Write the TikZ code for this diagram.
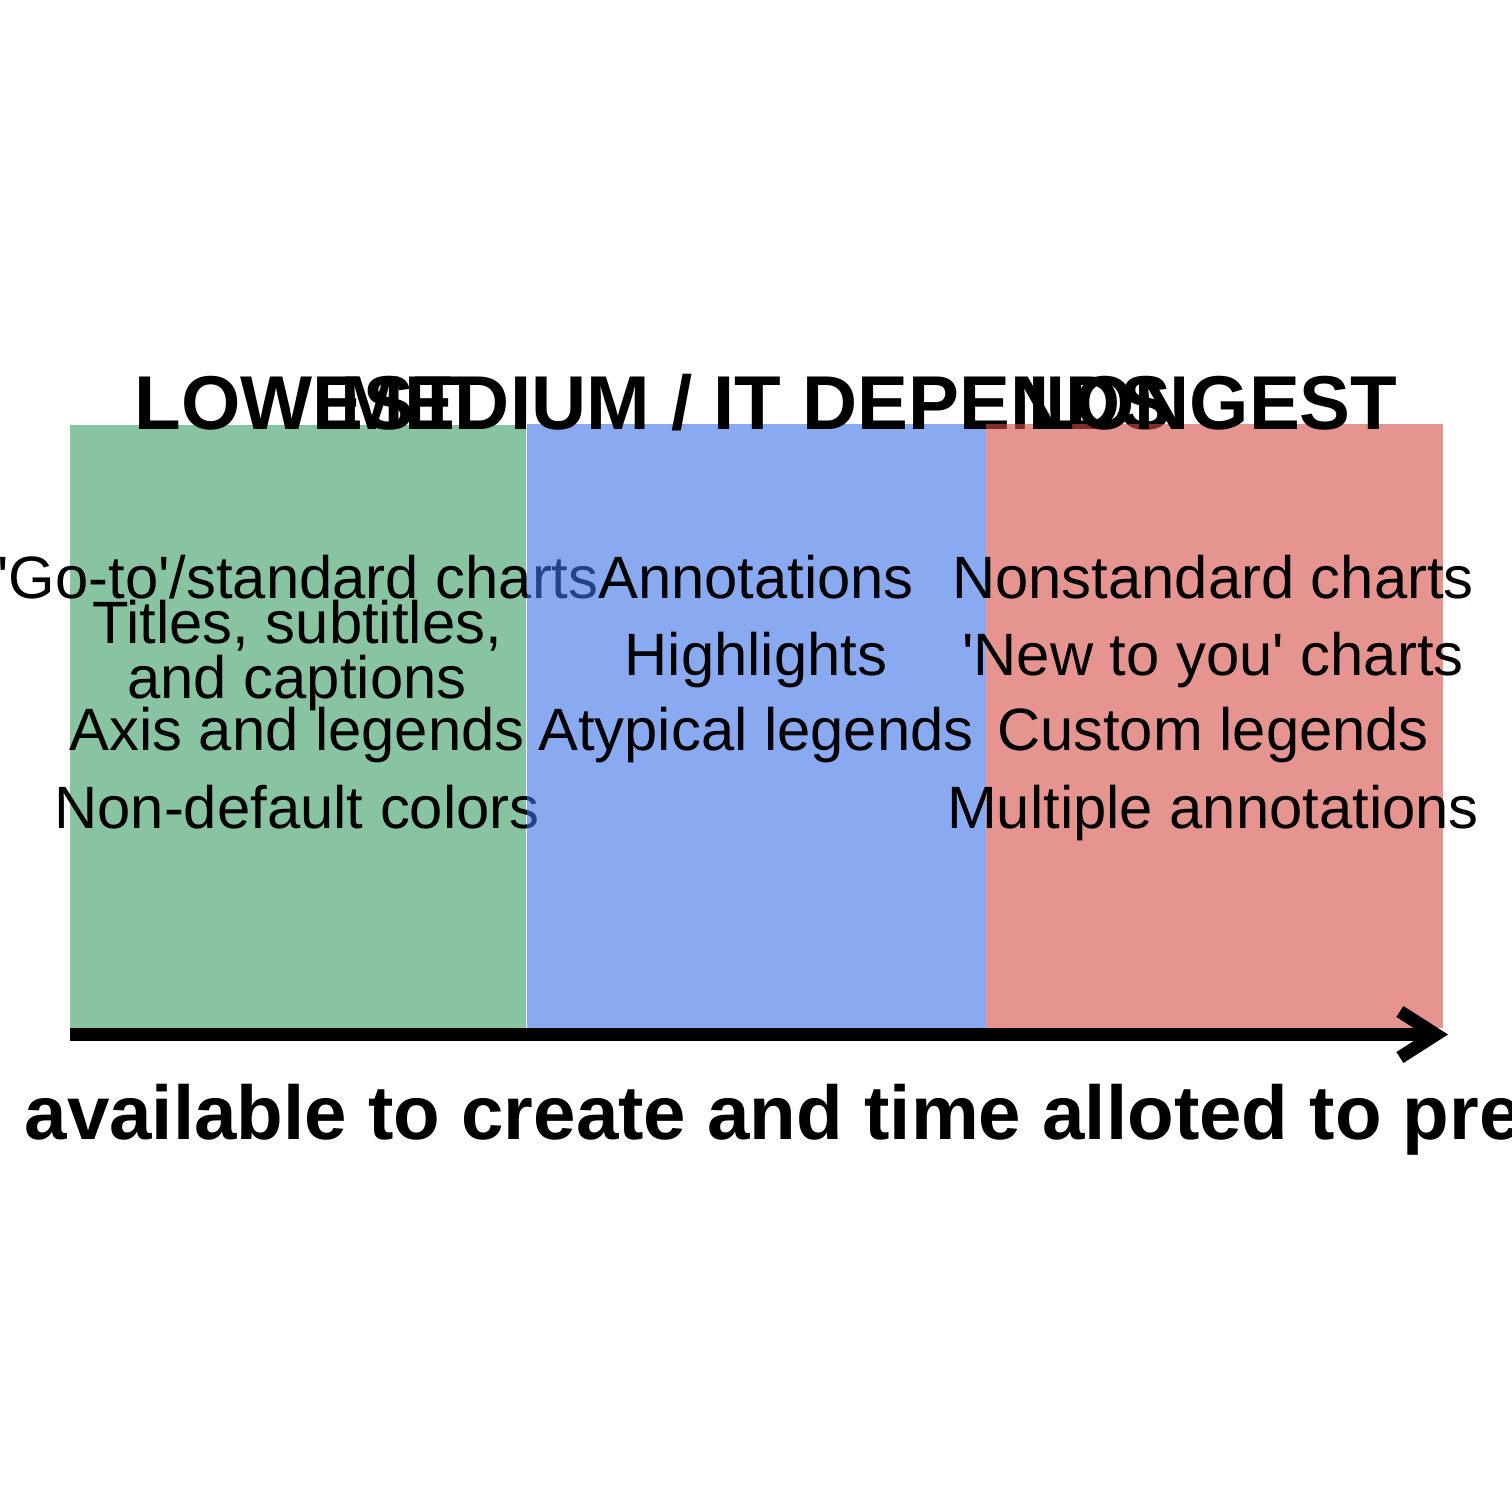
\documentclass[tikz,border=0pt]{standalone}
\usepackage{fontspec}
\setmainfont{Liberation Sans}
\usetikzlibrary{arrows.meta}

\definecolor{lowBg}{RGB}{57,157,100}
\definecolor{midBg}{RGB}{58,112,230}
\definecolor{longBg}{RGB}{213,77,70}

\begin{document}
\begin{tikzpicture}[x=0.01cm, y=-0.01cm,
    tierBox/.style={fill opacity=0.6},
    tierTitle/.style={anchor=base, font=\fontsize{21.7}{26}\selectfont\bfseries},
    tierItem/.style={anchor=base, align=center, font=\fontsize{17}{14.4}\selectfont}]
\useasboundingbox (0,0) rectangle (1512,1512);
%% ── Lowest tier ──────────────────────────────────────────────────────────
\fill[tierBox, fill=lowBg] (70,425) rectangle (525.5,1028);
\node[tierTitle] (lowTitle) at (298,429) {LOWEST};
\node[tierItem] (lowGoTo) at (298,598) {\textquotesingle Go-to\textquotesingle/standard charts};
\node[tierItem] (lowTitles) at (297,698) {Titles, subtitles,\\and captions};
\node[tierItem] (lowAxis) at (297,750) {Axis and legends};
\node[tierItem] (lowColors) at (297,828) {Non-default colors};
%% ── Medium tier ──────────────────────────────────────────────────────────
\fill[tierBox, fill=midBg] (526.5,424) rectangle (986,1028);
\node[tierTitle] (midTitle) at (756,429) {MEDIUM / IT DEPENDS};
\node[tierItem] (midNotes) at (756,598) {Annotations};
\node[tierItem] (midHigh) at (756,675) {Highlights};
\node[tierItem] (midLegends) at (756,750) {Atypical legends};
%% ── Longest tier ─────────────────────────────────────────────────────────
\fill[tierBox, fill=longBg] (986,424) rectangle (1443,1028);
\node[tierTitle] (longTitle) at (1213,429) {LONGEST};
\node[tierItem] (longCharts) at (1213,598) {Nonstandard charts};
\node[tierItem] (longNew) at (1213,675) {\textquotesingle New to you\textquotesingle{} charts};
\node[tierItem] (longLegends) at (1213,750) {Custom legends};
\node[tierItem] (longNotes) at (1213,828) {Multiple annotations};
%% ── Time axis ────────────────────────────────────────────────────────────
\coordinate (axisStart) at (70,1034.5);
\coordinate (axisEnd) at (1448,1034.5);
\draw[line width=0.13cm, -{Straight Barb[length=3.6mm, width=4.6mm]}] (axisStart) -- (axisEnd);
\node[anchor=base west, inner sep=0pt, font=\fontsize{21.7}{26}\selectfont\bfseries]
    (axisLabel) at (24,1139) {available to create and time alloted to pre};
\end{tikzpicture}
\end{document}
